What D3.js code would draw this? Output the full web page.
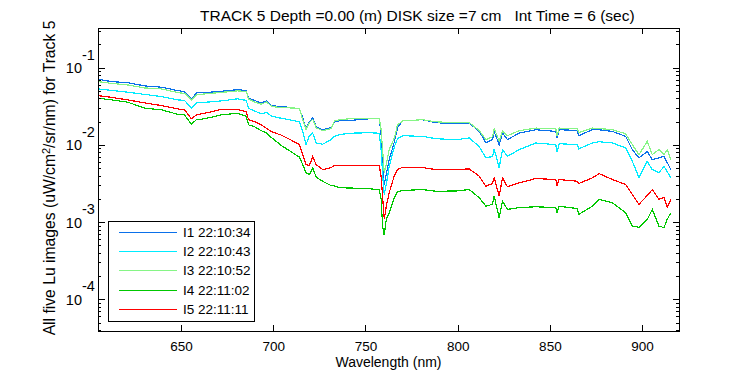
<!DOCTYPE html>
<html><head><meta charset="utf-8">
<script src="https://cdn.jsdelivr.net/npm/d3@7"></script>
<style>
body{margin:0;background:#fff;}
text{font-family:"Liberation Sans",Arial,Helvetica,sans-serif;font-size:13px;fill:#000;white-space:pre;}
</style>
</head><body>
<svg id="c" width="750" height="375"></svg>
<script>
// ---- data ----
const wavelength = [605.0,612.4,621.1,630.3,639.5,648.2,651.9,655.6,658.4,662.8,672.0,680.6,685.4,686.6,689.8,693.6,696.3,699.1,704.5,708.8,714.2,716.0,717.8,719.6,721.4,723.3,726.8,731.4,733.2,735.9,741.3,752.1,757.5,758.5,759.3,760.2,761.3,762.9,765.7,767.4,770.2,781.0,788.2,799.1,806.3,811.7,815.3,818.9,819.8,822.5,824.3,827.0,833.3,842.4,853.2,853.9,855.0,864.9,865.6,873.0,876.7,883.9,891.1,894.7,898.3,902.8,905.5,909.1,911.9,913.6,915.6];

const I1 = [0.0709,0.0660,0.0641,0.0581,0.0559,0.0505,0.0490,0.0391,0.0472,0.0476,0.0496,0.0520,0.0505,0.0403,0.0377,0.0350,0.0372,0.0325,0.0311,0.0308,0.0293,0.0225,0.0162,0.0199,0.0223,0.0172,0.0157,0.0167,0.0201,0.0205,0.0207,0.0218,0.0218,0.01355,0.00645,0.00307,0.00413,0.00645,0.0110,0.0167,0.0205,0.0212,0.0194,0.0188,0.0192,0.01495,0.01069,0.01168,0.01481,0.01007,0.01425,0.01168,0.01425,0.01572,0.01495,0.01229,0.01572,0.0154,0.01316,0.01572,0.0157,0.01495,0.01289,0.00868,0.00678,0.00825,0.00645,0.00678,0.00711,0.0059,0.00479];

const I2 = [0.0531,0.0508,0.0482,0.0451,0.0423,0.0383,0.0377,0.0299,0.0350,0.0356,0.0372,0.0395,0.0377,0.0298,0.0276,0.0253,0.0264,0.0235,0.0221,0.0212,0.0199,0.01481,0.01007,0.01316,0.01425,0.01059,0.01022,0.01168,0.01289,0.01355,0.01417,0.01438,0.01417,0.00868,0.00413,0.00228,0.00307,0.00528,0.00949,0.01204,0.01316,0.01289,0.01204,0.01168,0.01229,0.00949,0.00684,0.00705,0.00886,0.00508,0.00868,0.00711,0.00868,0.01059,0.01007,0.00801,0.01037,0.01007,0.00886,0.01059,0.0110,0.01059,0.00913,0.00613,0.00378,0.00613,0.00479,0.00438,0.00524,0.00451,0.00374];

const I3 = [0.0660,0.0626,0.0598,0.0547,0.0531,0.0476,0.0465,0.0383,0.0445,0.0458,0.0479,0.0501,0.0493,0.0395,0.0361,0.0337,0.0361,0.0316,0.0302,0.0302,0.0298,0.0212,0.0157,0.0194,0.0215,0.0167,0.01526,0.0162,0.0205,0.0212,0.0218,0.0221,0.0221,0.0157,0.00868,0.00438,0.00556,0.00868,0.0124,0.0182,0.0205,0.0212,0.0199,0.0194,0.0194,0.0154,0.01168,0.01277,0.0162,0.01134,0.01526,0.01316,0.01526,0.01653,0.0162,0.01316,0.01653,0.0162,0.01438,0.01653,0.0163,0.01572,0.01396,0.01007,0.00748,0.0111,0.00748,0.00868,0.00748,0.00868,0.00645];

const I4 = [0.0403,0.0383,0.0358,0.0299,0.0285,0.0249,0.0245,0.0186,0.0212,0.0218,0.0245,0.0257,0.0235,0.0182,0.0172,0.01526,0.01425,0.0124,0.00977,0.00842,0.00695,0.00556,0.00434,0.00413,0.00504,0.00383,0.00338,0.00298,0.00294,0.00278,0.00277,0.0027,0.00264,0.00197,0.000889,0.000675,0.001085,0.00132,0.00209,0.00249,0.00257,0.00264,0.00251,0.00253,0.00264,0.00207,0.00161,0.0017,0.00217,0.00114,0.00187,0.00146,0.00154,0.00158,0.00154,0.00132,0.0016,0.0015,0.00126,0.00161,0.00197,0.00178,0.00132,0.000889,0.000856,0.001085,0.00146,0.000889,0.000848,0.001085,0.00132];

const I5 = [0.0435,0.0413,0.0383,0.0350,0.0323,0.0293,0.0285,0.0218,0.0245,0.0257,0.0289,0.0289,0.0268,0.0212,0.0201,0.0182,0.0164,0.01481,0.01335,0.01186,0.01007,0.00748,0.00556,0.0054,0.00705,0.00556,0.00479,0.00508,0.0054,0.0054,0.0054,0.0054,0.0054,0.00389,0.00215,0.001085,0.0016,0.00242,0.00401,0.00479,0.00513,0.00508,0.00479,0.00479,0.00489,0.00393,0.00292,0.00316,0.00374,0.00217,0.00374,0.00287,0.00323,0.00367,0.00356,0.00298,0.00356,0.00338,0.00316,0.00374,0.00425,0.00356,0.00307,0.00228,0.0017,0.00221,0.00264,0.00197,0.00209,0.00155,0.00197];

const seriesNames = ["I1 22:10:34","I2 22:10:43","I3 22:10:52","I4 22:11:02","I5 22:11:11"];
const seriesColors = ["#0a70ea","#00ecff","#86f586","#00c800","#ff0000"];
const xTicks = [650,700,750,800,850,900];
const yMajorTicks = [1e-4,1e-3,1e-2,1e-1];
const yTickExponents = ["-4","-3","-2","-1"];
const yMinorTicks = [];
[1e-5,1e-4,1e-3,1e-2,1e-1].forEach(b=>{for(let k=2;k<=9;k++) yMinorTicks.push(k*b);});
const titleText = "TRACK 5 Depth =0.00 (m) DISK size =7 cm   Int Time = 6 (sec)";
const xLabel = "Wavelength (nm)";

// ---- chart ----
const svg = d3.select("#c");
svg.append("rect").attr("width",750).attr("height",375).attr("fill","#fff");
const L=98, R=679, T=28.3, B=330.7;
const x = d3.scaleLinear().domain([605,920]).range([L,R]);
const y = d3.scaleLog().domain([3.92e-5,0.324]).range([B,T]);
const yMin = y.domain()[0], yMax = y.domain()[1];
const minorIn = yMinorTicks.filter(v=>v>yMin && v<yMax);

svg.append("clipPath").attr("id","clip").append("rect")
  .attr("x",L).attr("y",T).attr("width",R-L+1).attr("height",B-T);

const series = [I1,I2,I3,I4,I5];
const line = d3.line().x((d,i)=>x(wavelength[i])).y(d=>y(d));
const plot = svg.append("g").attr("clip-path","url(#clip)");
series.forEach((s,i)=>{
  plot.append("path").datum(s).attr("d",line)
    .attr("fill","none").attr("stroke",seriesColors[i]).attr("stroke-width",1.2)
    .attr("shape-rendering","crispEdges");
});

// axes (ticks point inward)
const axG = svg.append("g").attr("shape-rendering","crispEdges");
function styleAxis(g){ g.select(".domain").remove(); g.selectAll("line").attr("stroke","#000"); g.selectAll("text").style("font-size","13.5px").attr("fill","#000").style("font-family",'"Liberation Sans",Arial,sans-serif'); }
axG.append("g").attr("transform",`translate(0,${B})`)
  .call(d3.axisBottom(x).tickValues(xTicks).tickSize(-5.5).tickPadding(10.5).tickFormat(d3.format("d"))).call(styleAxis);
axG.append("g").attr("transform",`translate(0,${T})`)
  .call(d3.axisTop(x).tickValues(xTicks).tickSize(-5.5).tickFormat("")).call(styleAxis);
axG.append("g").attr("transform",`translate(${L},0)`)
  .call(d3.axisLeft(y).tickValues(yMajorTicks).tickSize(-6.5).tickFormat("")).call(styleAxis);
axG.append("g").attr("transform",`translate(${L},0)`)
  .call(d3.axisLeft(y).tickValues(minorIn).tickSize(-3).tickFormat("")).call(styleAxis);
axG.append("g").attr("transform",`translate(${R},0)`)
  .call(d3.axisRight(y).tickValues(yMajorTicks).tickSize(-6.5).tickFormat("")).call(styleAxis);
axG.append("g").attr("transform",`translate(${R},0)`)
  .call(d3.axisRight(y).tickValues(minorIn).tickSize(-3).tickFormat("")).call(styleAxis);
axG.append("rect").attr("x",L+0.5).attr("y",Math.round(T)+0.5)
  .attr("width",R-L).attr("height",Math.round(B)-Math.round(T)).attr("fill","none").attr("stroke","#000");

// y tick labels 10^n
const yl = svg.append("g");
yMajorTicks.forEach((v,i)=>{
  yl.append("text").attr("x",82).attr("y",y(v)+5.5).attr("text-anchor","end").style("font-size","14.5px").text("10");
  yl.append("text").attr("x",82).attr("y",y(v)-8).attr("text-anchor","start").style("font-size","14.5px").text(yTickExponents[i]);
});

// title & labels
svg.append("text").attr("x",200).attr("y",21).attr("text-anchor","start").style("font-size","15.5px").text(titleText);
svg.append("text").attr("x",388.5).attr("y",367).attr("text-anchor","middle").style("font-size","14px").text(xLabel);
const ylab = svg.append("text").attr("transform","translate(55,178) rotate(-90)").attr("text-anchor","middle").style("font-size","15.7px");
ylab.append("tspan").text("All five Lu images (uW/cm");
ylab.append("tspan").attr("dy",-5).style("font-size","11px").text("2");
ylab.append("tspan").attr("dy",5).text("/sr/nm) for Track 5");

// legend
const lg = svg.append("g");
const lgBox = lg.append("rect").attr("x",108.5).attr("y",221.5).attr("height",100)
  .attr("fill","#fff").attr("stroke","#000").attr("shape-rendering","crispEdges");
let maxR = 0;
seriesNames.forEach((n,i)=>{
  const yy = 232.3 + i*19.25;
  lg.append("line").attr("x1",119).attr("x2",177).attr("y1",yy).attr("y2",yy)
    .attr("stroke",seriesColors[i]).attr("stroke-width",1.1).attr("shape-rendering","crispEdges");
  const t = lg.append("text").attr("x",183).attr("y",yy+4.5).style("font-size","13.5px").text(n);
  const bb = t.node().getBBox(); maxR = Math.max(maxR, bb.x+bb.width);
});
lgBox.attr("width", Math.round(maxR+3) - 108);
</script>
</body></html>
